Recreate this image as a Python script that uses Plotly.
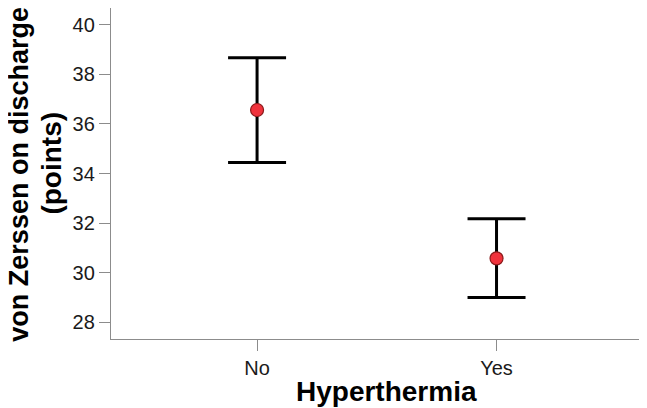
import plotly.graph_objects as go

categories = ["No", "Yes"]
means = [36.56, 30.58]
upper = [38.66, 32.18]
lower = [34.44, 29.00]
y_ticks = [28, 30, 32, 34, 36, 38, 40]
y_title_lines = ["von Zerssen on discharge", "(points)"]
x_title = "Hyperthermia"

err_plus = [u - m for u, m in zip(upper, means)]
err_minus = [m - l for m, l in zip(means, lower)]

FONT = "Liberation Sans, Arial, Helvetica"

fig = go.Figure(go.Scatter(
    x=categories, y=means, mode="markers",
    marker=dict(size=13, color="#f0323c", line=dict(color="#8b1a1a", width=1.2)),
    error_y=dict(type="data", symmetric=False, array=err_plus, arrayminus=err_minus,
                 color="black", thickness=3, width=29),
    showlegend=False,
))

axis_common = dict(showline=True, linecolor="#8c8c8c", linewidth=1.3, mirror=True,
                   ticks="outside", ticklen=11, tickcolor="#8c8c8c", tickwidth=1.3,
                   showgrid=False, zeroline=False, automargin=False,
                   tickfont=dict(family=FONT, size=20, color="#1a1a1a"))

fig.update_layout(
    width=639, height=400,
    margin=dict(l=103, r=2, t=0, b=69),
    plot_bgcolor="white", paper_bgcolor="white",
    xaxis=dict(axis_common, type="category", range=[-0.61, 1.62]),
    yaxis=dict(axis_common, range=[27.33, 40.67], tickvals=y_ticks),
    annotations=[
        dict(text="<b>%s</b>" % y_title_lines[0], textangle=-90, xref="paper", yref="paper",
             x=-0.172, y=0.497, xanchor="center", yanchor="middle", showarrow=False,
             font=dict(family=FONT, size=27, color="black")),
        dict(text="<b>%s</b>" % y_title_lines[1], textangle=-90, xref="paper", yref="paper",
             x=-0.112, y=0.5306, xanchor="center", yanchor="middle", showarrow=False,
             font=dict(family=FONT, size=28, color="black")),
        dict(text="<b>%s</b>" % x_title, xref="paper", yref="paper",
             x=0.515, y=-0.159, xanchor="center", yanchor="middle", showarrow=False,
             font=dict(family=FONT, size=28, color="black")),
    ],
)

fig.write_html("out.html")
